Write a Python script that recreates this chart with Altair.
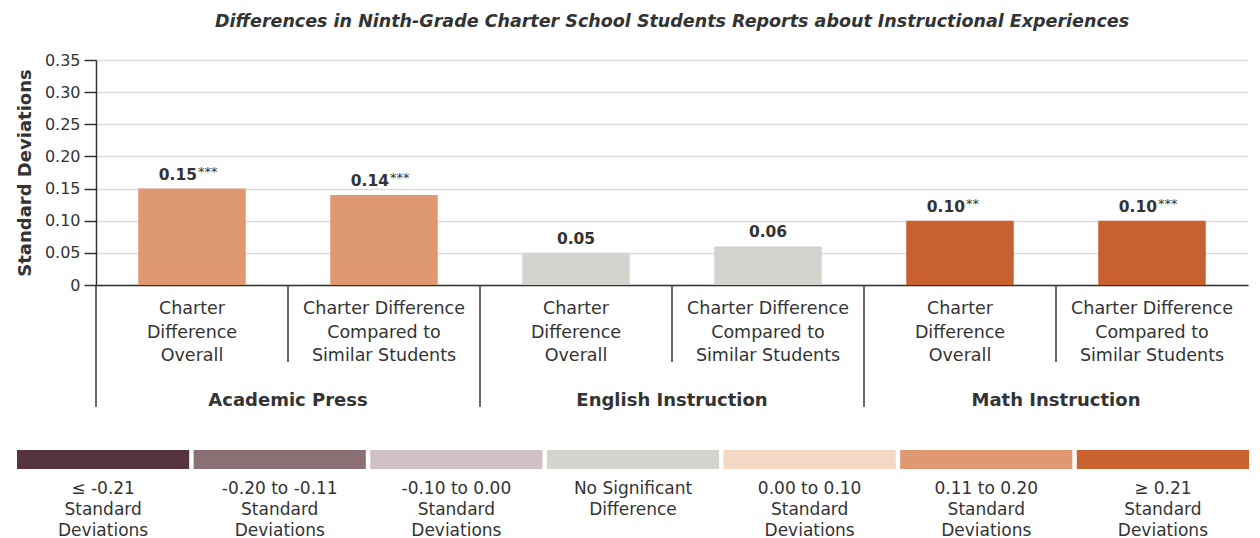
import altair as alt
import pandas as pd

FONT = "DejaVu Sans"
TXT = "#333333"

# ---- data ----
groups = ["Academic Press", "Academic Press", "English Instruction", "English Instruction",
          "Math Instruction", "Math Instruction"]
sublabels = ["Charter\nDifference\nOverall", "Charter Difference\nCompared to\nSimilar Students",
             "Charter\nDifference\nOverall", "Charter Difference\nCompared to\nSimilar Students",
             "Charter\nDifference\nOverall", "Charter Difference\nCompared to\nSimilar Students"]
values = [0.15, 0.14, 0.05, 0.06, 0.10, 0.10]
value_labels = ["0.15", "0.14", "0.05", "0.06", "0.10", "0.10"]
stars = ["***", "***", "", "", "**", "***"]
bar_colors = ["#DE9872", "#DE9872", "#D3D4CE", "#D3D4CE", "#C9602F", "#C9602F"]

group_names = ["Academic Press", "English Instruction", "Math Instruction"]

legend_labels = ["≤ -0.21\nStandard\nDeviations", "-0.20 to -0.11\nStandard\nDeviations",
                 "-0.10 to 0.00\nStandard\nDeviations", "No Significant\nDifference",
                 "0.00 to 0.10\nStandard\nDeviations", "0.11 to 0.20\nStandard\nDeviations",
                 "≥ 0.21\nStandard\nDeviations"]
legend_colors = ["#553340", "#8A7074", "#D0C2C4", "#D3D4CE", "#F3D8C6", "#DE9872", "#C9622F"]

y_ticks = [0, 0.05, 0.10, 0.15, 0.20, 0.25, 0.30, 0.35]

# ---- tables ----
df = pd.DataFrame({
    "idx": list(range(len(values))),
    "group": groups, "sub": sublabels, "value": values,
    "label": value_labels, "stars": stars, "color": bar_colors,
})
gdf = pd.DataFrame({"gi": list(range(len(group_names))), "group": group_names})
sep_short = pd.DataFrame({"k": [1, 3, 5]})
sep_long = pd.DataFrame({"k": [0, 2, 4]})
ldf = pd.DataFrame({"li": list(range(len(legend_labels))), "label": legend_labels,
                    "color": legend_colors})

W, H = 1152, 225
HALF = 0.28
xs = alt.Scale(domain=[0, 6], nice=False, zero=False, padding=0)
ys = alt.Scale(domain=[0, 0.35], nice=False)

xaxis = alt.Axis(labels=False, ticks=False, grid=False, domain=True,
                 domainColor="#333333", domainWidth=1.5, title=None)
yaxis = alt.Axis(values=y_ticks, labelExpr="datum.value == 0 ? '0' : format(datum.value, '.2f')",
                 tickSize=12, tickColor="#333333", tickWidth=1.5, labelPadding=4,
                 labelFontSize=16, labelColor=TXT, labelFont=FONT,
                 domain=True, domainColor="#333333", domainWidth=1.5,
                 grid=True, gridColor="#DCDCDC", gridWidth=1.5,
                 title="Standard Deviations", titleFontSize=18, titleFont=FONT,
                 titleFontWeight="bold", titleColor=TXT, titlePadding=10)

def X(f):
    return alt.X(f, scale=xs, axis=xaxis)

def Y(f):
    return alt.Y(f, scale=ys, axis=yaxis)

base = alt.Chart(df).transform_calculate(
    pos="datum.idx + 0.5", x0=f"datum.idx + 0.5 - {HALF}", x1=f"datum.idx + 0.5 + {HALF}"
)

bars = base.mark_bar().encode(
    x=X("x0:Q"), x2="x1:Q",
    y=Y("value:Q"), y2=alt.datum(0),
    color=alt.Color("color:N", scale=None),
)

num_star = base.transform_filter("datum.stars != ''").mark_text(
    align="right", baseline="alphabetic", dx=5, dy=-9, fontSize=15.5, fontWeight="bold",
    font=FONT, color=TXT
).encode(x=X("pos:Q"), y=Y("value:Q"), text="label:N")

star_txt = base.transform_filter("datum.stars != ''").mark_text(
    align="left", baseline="alphabetic", dx=6, dy=-13, fontSize=13,
    font=FONT, color=TXT
).encode(x=X("pos:Q"), y=Y("value:Q"), text="stars:N")

num_plain = base.transform_filter("datum.stars == ''").mark_text(
    align="center", baseline="alphabetic", dy=-9, fontSize=15.5, fontWeight="bold",
    font=FONT, color=TXT
).encode(x=X("pos:Q"), y=Y("value:Q"), text="label:N")

subtxt = base.mark_text(
    align="center", baseline="alphabetic", lineBreak="\n", lineHeight=23.5,
    fontSize=17.5, font=FONT, color=TXT
).encode(x=X("pos:Q"), y=alt.value(254), text="sub:N")

grptxt = alt.Chart(gdf).transform_calculate(gx="datum.gi * 2 + 1").mark_text(
    align="center", baseline="alphabetic", fontSize=18, fontWeight="bold", font=FONT, color=TXT
).encode(x=X("gx:Q"), y=alt.value(346), text="group:N")

rshort = alt.Chart(sep_short).mark_rule(color="#333333", strokeWidth=1.5).encode(
    x=X("k:Q"), y=alt.value(H), y2=alt.value(302))
rlong = alt.Chart(sep_long).mark_rule(color="#333333", strokeWidth=1.5).encode(
    x=X("k:Q"), y=alt.value(H), y2=alt.value(347))

main = alt.layer(bars, rshort, rlong, num_star, star_txt, num_plain, subtxt, grptxt).properties(
    width=W, height=H,
    title=alt.TitleParams(
        "Differences in Ninth-Grade Charter School Students Reports about Instructional Experiences",
        fontSize=17.5, fontStyle="italic", fontWeight="bold", font=FONT, color=TXT,
        anchor="middle", frame="group", offset=22),
)

# ---- legend panel (own scale; swatches start left of the plot origin) ----
unit = 1232 / 6.975
d0 = 79 / unit
lxs = alt.Scale(domain=[d0, d0 + W / unit], nice=False, zero=False, padding=0)
lbase = alt.Chart(ldf).transform_calculate(
    a="datum.li", b="datum.li + 0.975", m="datum.li + 0.4875")
lrect = lbase.mark_bar().encode(
    x=alt.X("a:Q", scale=lxs, axis=None), x2="b:Q",
    y=alt.value(0), y2=alt.value(19),
    color=alt.Color("color:N", scale=None))
ltxt = lbase.mark_text(
    align="center", baseline="alphabetic", lineBreak="\n", lineHeight=21,
    fontSize=17, font=FONT, color=TXT
).encode(x=alt.X("m:Q", scale=lxs, axis=None), y=alt.value(44), text="label:N")
legend = alt.layer(lrect, ltxt).properties(width=W, height=19)

chart = alt.vconcat(main, legend, spacing=40).properties(
    padding={"left": 8, "top": 4, "right": 0, "bottom": 0}
).configure(font=FONT).configure_view(stroke=None)

chart.save("out.html", embed_options={"renderer": "svg", "actions": False})
